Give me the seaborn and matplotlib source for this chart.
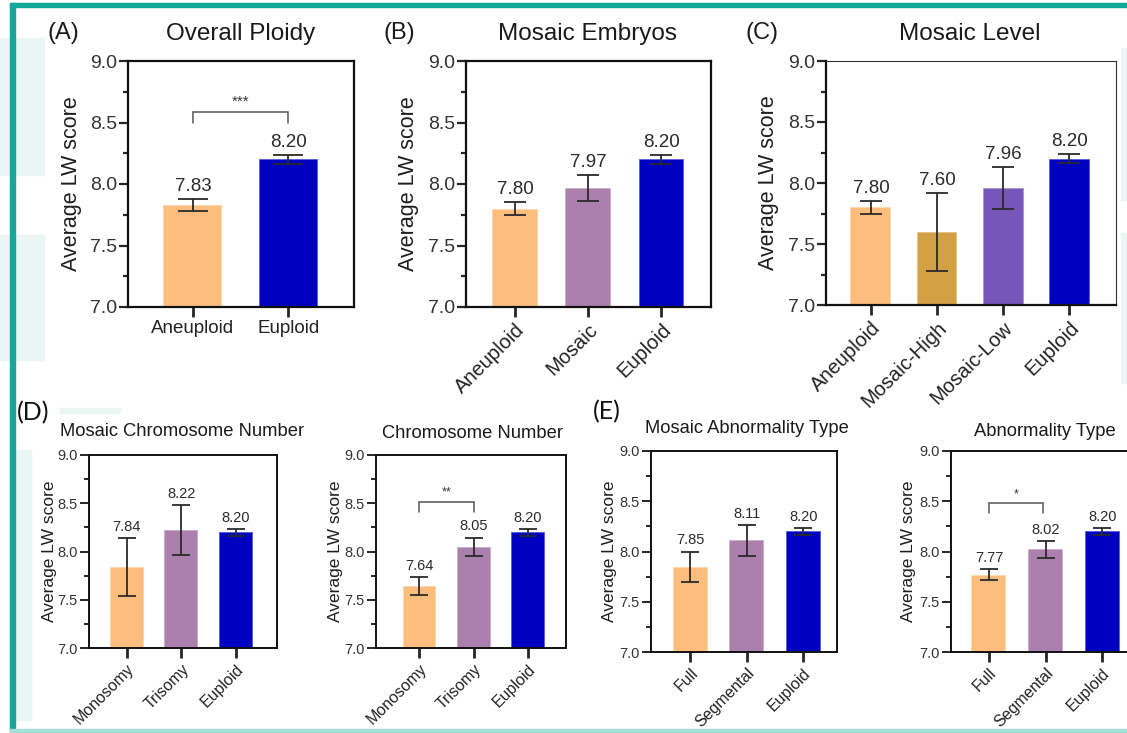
import matplotlib
matplotlib.use("Agg")
import matplotlib.pyplot as plt
import seaborn as sns
import pandas as pd
from matplotlib.ticker import MultipleLocator, FormatStrFormatter
from matplotlib.patches import Rectangle

# ---- data (mean LW score +/- error) ----
a_groups = ["Aneuploid", "Euploid"]
a_means = [7.83, 8.20]
a_err = [0.05, 0.035]

b_groups = ["Aneuploid", "Mosaic", "Euploid"]
b_means = [7.80, 7.97, 8.20]
b_err = [0.05, 0.105, 0.035]

c_groups = ["Aneuploid", "Mosaic-High", "Mosaic-Low", "Euploid"]
c_means = [7.80, 7.60, 7.96, 8.20]
c_err = [0.05, 0.32, 0.17, 0.035]

d1_groups = ["Monosomy", "Trisomy", "Euploid"]
d1_means = [7.84, 8.22, 8.20]
d1_err = [0.30, 0.26, 0.035]

d2_groups = ["Monosomy", "Trisomy", "Euploid"]
d2_means = [7.64, 8.05, 8.20]
d2_err = [0.095, 0.095, 0.035]

e1_groups = ["Full", "Segmental", "Euploid"]
e1_means = [7.85, 8.11, 8.20]
e1_err = [0.15, 0.15, 0.035]

e2_groups = ["Full", "Segmental", "Euploid"]
e2_means = [7.77, 8.02, 8.20]
e2_err = [0.055, 0.085, 0.035]

PEACH = "#FDBE7D"
MAUVE = "#AB80AF"
BLUE = "#0000C0"
GOLD = "#D3A143"
VIOLET = "#7657B9"
TEAL = "#12A89A"

W, H = 1127, 733

sns.set_theme(style="ticks")
plt.rcParams["font.family"] = ["Liberation Sans", "DejaVu Sans"]
plt.rcParams["text.color"] = "#1e1e1e"

fig = plt.figure(figsize=(W / 100, H / 100), dpi=100)
fig.patch.set_facecolor("white")

# faint background shapes + teal frame
for (x, y, w, h) in [(0, 38, 44, 137), (0, 235, 44, 125), (15, 450, 16, 270),
                     (1121, 48, 6, 152), (1121, 233, 6, 150), (60, 408, 60, 5)]:
    fig.patches.append(Rectangle((x / W, 1 - (y + h) / H), w / W, h / H,
                                 transform=fig.transFigure, color="#EAF6F4", zorder=0))
fig.patches.append(Rectangle((10 / W, 0), 5 / W, 1 - 3 / H, transform=fig.transFigure,
                             color=TEAL, zorder=1))
fig.patches.append(Rectangle((10 / W, 1 - 7 / H), 1 - 10 / W, 4 / H, transform=fig.transFigure,
                             color=TEAL, zorder=1))
fig.patches.append(Rectangle((10 / W, 1 / H), 1 - 10 / W, 3 / H, transform=fig.transFigure,
                             color="#A6DED6", zorder=1))


def px(x, y):
    return x / W, 1 - y / H


def panel(box, groups, means, errs, colors, xlim, big, title, title_xy,
          ylab_x, rot, capsize, thin_tr=False):
    l, t, r, b = box
    ax = fig.add_axes([l / W, 1 - b / H, (r - l) / W, (b - t) / H])
    df = pd.DataFrame({"group": groups, "score": means})
    sns.barplot(data=df, x="group", y="score", hue="group", palette=colors,
                dodge=False, legend=False, saturation=1, width=0.62,
                edgecolor=(1, 1, 1, 0.45), linewidth=1.2, ax=ax)
    ax.errorbar(range(len(groups)), means, yerr=errs, fmt="none", ecolor="#2a2a2a",
                elinewidth=1.3, capsize=capsize, capthick=1.3, zorder=5)

    fs_val = 13.5 if big else 10.5
    for i, (m, e) in enumerate(zip(means, errs)):
        ax.annotate(f"{m:.2f}", (i, m + e), xytext=(0, 3), textcoords="offset points",
                    ha="center", va="bottom", fontsize=fs_val, color="#2a2a2a")

    ax.set_ylim(7, 9)
    ax.set_xlim(*xlim)
    ax.yaxis.set_major_locator(MultipleLocator(0.5))
    ax.yaxis.set_minor_locator(MultipleLocator(0.25))
    ax.yaxis.set_major_formatter(FormatStrFormatter("%.1f"))
    ax.set_xlabel("")
    ax.set_ylabel("Average LW score", fontsize=15.5 if big else 12.5, color="#1e1e1e")
    ax.yaxis.set_label_coords(ylab_x, 0.5)

    lw = 1.6 if big else 1.4
    for s in ax.spines.values():
        s.set_linewidth(lw)
        s.set_color("#111111")
    if thin_tr:
        for s in ("top", "right"):
            ax.spines[s].set_linewidth(0.8)
            ax.spines[s].set_color("#333333")

    ax.tick_params(axis="y", which="major", length=6.5, width=lw, direction="out",
                   labelsize=14 if big else 10.5, labelcolor="#333333", pad=1.5)
    ax.tick_params(axis="y", which="minor", length=3.5, width=lw, direction="out")
    ax.tick_params(axis="x", length=7, width=2.0, direction="out",
                   labelsize=(13.5 if not rot else 14.5) if big else 11.5,
                   labelcolor="#222222", pad=2.5)
    if rot:
        for lab in ax.get_xticklabels():
            lab.set_rotation(45)
            lab.set_ha("right")
            lab.set_rotation_mode("anchor")

    fig.text(*px(*title_xy), title, ha="center", va="center",
             fontsize=17.5 if big else 13.2, color="#1a1a1a")
    return ax


def bracket(ax, x0, x1, y, leg, stars, fs):
    ax.plot([x0, x0, x1, x1], [y - leg, y, y, y - leg], color="#555555", lw=1.1,
            solid_joinstyle="miter", zorder=6)
    ax.text((x0 + x1) / 2, y + 0.03, stars, ha="center", va="bottom",
            fontsize=fs, color="#333333")


# top row
axA = panel((128, 61, 354, 307), a_groups, a_means, a_err, [PEACH, BLUE],
            (-0.68, 1.69), True, "Overall Ploidy", (241, 34), -0.204, False, 10.5)
bracket(axA, 0, 1, 8.585, 0.085, "***", 11)

axB = panel((466, 61, 711, 307), b_groups, b_means, b_err, [PEACH, MAUVE, BLUE],
            (-0.67, 2.68), True, "Mosaic Embryos", (587, 34), -0.193, True, 7.8)

axC = panel((826, 61, 1116, 305), c_groups, c_means, c_err, [PEACH, GOLD, VIOLET, BLUE],
            (-0.68, 3.71), True, "Mosaic Level", (970, 34), -0.163, True, 7.8, thin_tr=True)

# bottom row
axD1 = panel((89, 455, 277, 648), d1_groups, d1_means, d1_err, [PEACH, MAUVE, BLUE],
             (-0.69, 2.75), False, "Mosaic Chromosome Number", (182, 432), -0.172, True, 6.8)

axD2 = panel((376, 455, 566, 648), d2_groups, d2_means, d2_err, [PEACH, MAUVE, BLUE],
             (-0.80, 2.70), False, "Chromosome Number", (472, 433), -0.172, True, 6.8)
bracket(axD2, 0, 1, 8.515, 0.105, "**", 9)

axE1 = panel((651, 451, 837, 652), e1_groups, e1_means, e1_err, [PEACH, MAUVE, BLUE],
             (-0.70, 2.60), False, "Mosaic Abnormality Type", (747, 429), -0.184, True, 6.8)

axE2 = panel((951, 451, 1139, 652), e2_groups, e2_means, e2_err, [PEACH, MAUVE, BLUE],
             (-0.67, 2.65), False, "Abnormality Type", (1045, 431), -0.186, True, 6.8)
bracket(axE2, 0, 0.95, 8.48, 0.095, "*", 9)

# panel letters
for lab, (x, y) in {"(A)": (63, 33), "(B)": (399, 33), "(C)": (762, 33)}.items():
    fig.text(*px(x, y), lab, ha="center", va="center", fontsize=17, color="#1a1a1a")
for lab, (x, y) in {"(D)": (33, 413), "(E)": (607, 412)}.items():
    fig.text(*px(x, y), lab, ha="center", va="center", fontsize=18, color="#111111",
             family=["Lato", "DejaVu Sans"])

fig.savefig("out.png", dpi=100)
